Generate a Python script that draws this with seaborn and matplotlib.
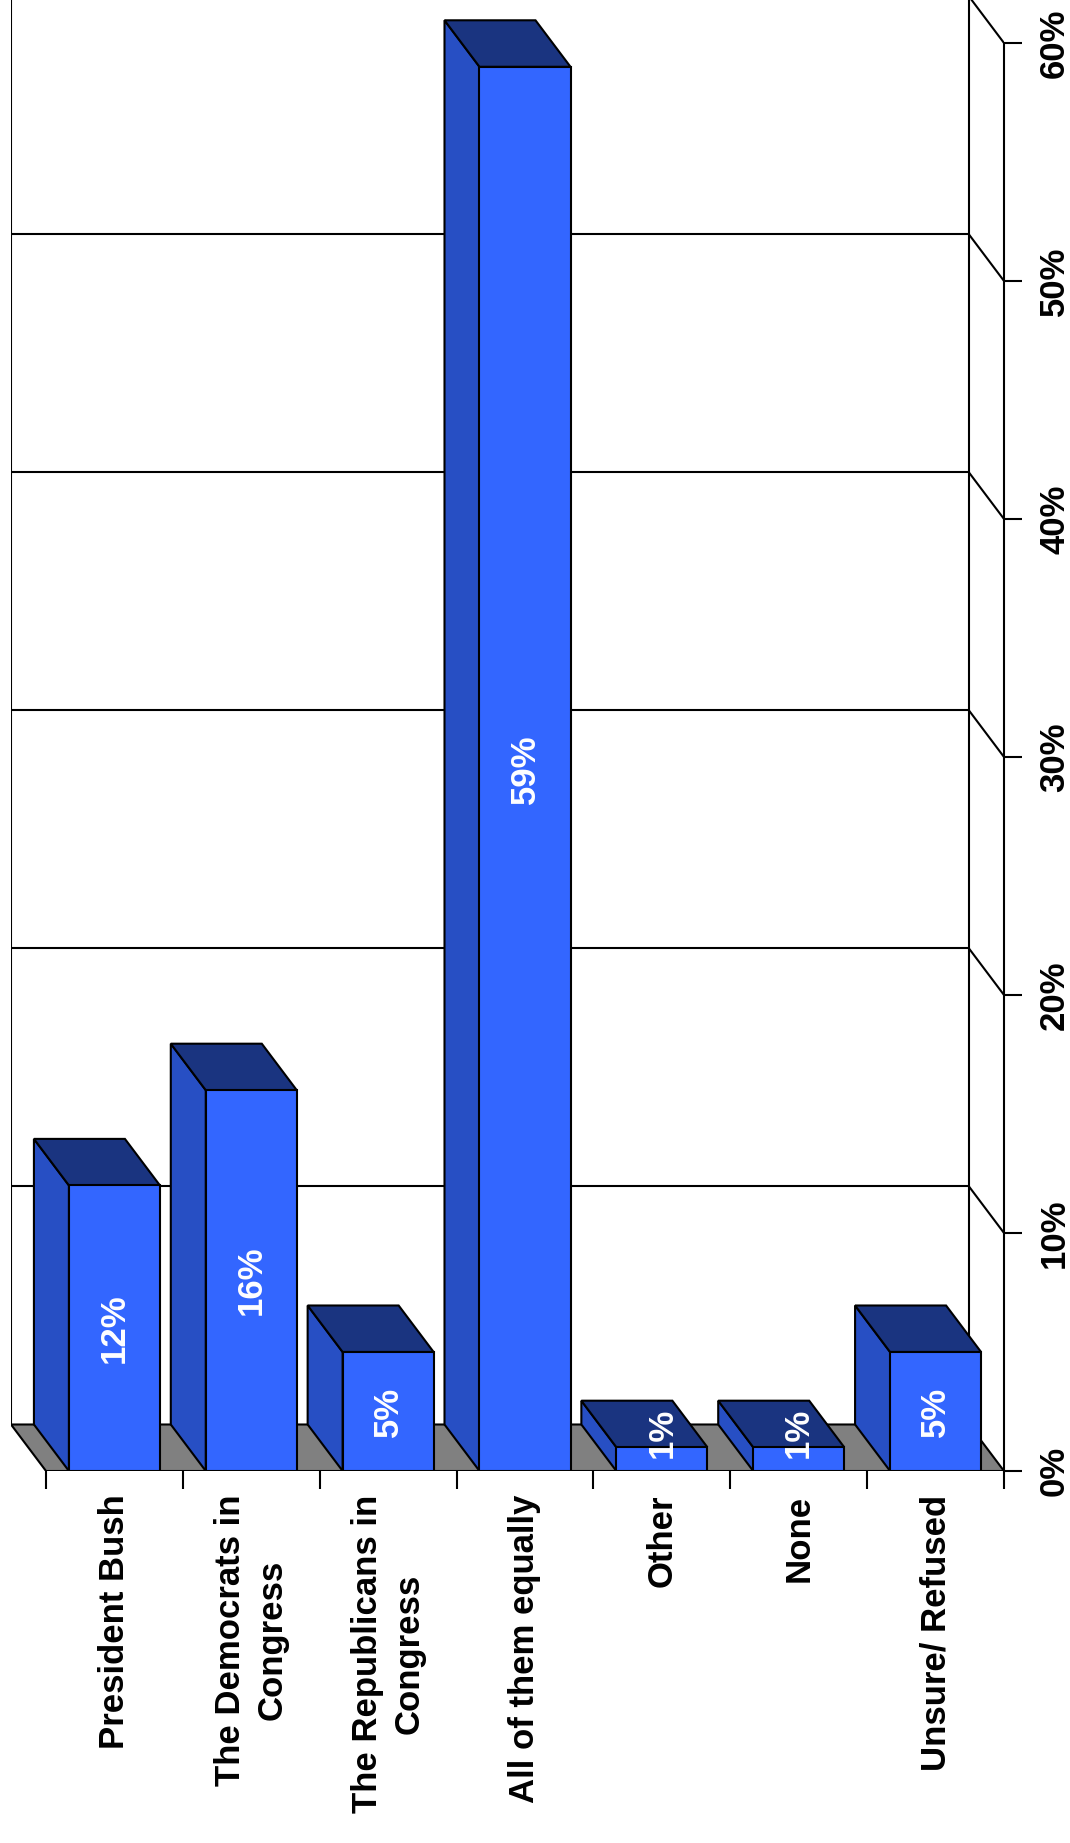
import numpy as np
import matplotlib
matplotlib.use("Agg")
import matplotlib.pyplot as plt
import seaborn as sns
from matplotlib.patches import Polygon
from matplotlib.ticker import FixedLocator

# Data
categories = ["President Bush", "The Democrats in\nCongress", "The Republicans in\nCongress",
              "All of them equally", "Other", "None", "Unsure/ Refused"]
values = [12, 16, 5, 59, 1, 1, 5]
value_labels = ["12%", "16%", "5%", "59%", "1%", "1%", "5%"]
y_ticks = [0, 10, 20, 30, 40, 50, 60]
y_tick_labels = ["0%", "10%", "20%", "30%", "40%", "50%", "60%"]

FRONT = "#3366FF"
SIDE = "#274FC4"
TOP = "#1A3480"
FLOOR = "#808080"
DX = 0.2557   # depth offset in category units
DY = 1.954    # depth offset in percent units
LW = 1.5

sns.set_style("white")
plt.rcParams["font.family"] = ["Liberation Sans", "DejaVu Sans"]
plt.rcParams["font.weight"] = "bold"

fig = plt.figure(figsize=(10.7, 18.43), dpi=100)
ax = fig.add_axes([11 / 1070, 1 - 1471 / 1843, (1004 - 11) / 1070, 1471 / 1843])

sns.barplot(x=categories, y=values, color=FRONT, saturation=1, width=0.665,
            edgecolor="black", linewidth=LW, errorbar=None, zorder=4, ax=ax)
bars = list(ax.patches)

ytop = 1471 / 23.8
ax.set_xlim(-0.5 - DX, 6.5)
ax.set_ylim(0, ytop)

# back wall and grid
ax.plot([-0.5 - DX] * 2, [DY, ytop], color="black", lw=LW, zorder=0)
ax.plot([6.5 - DX] * 2, [DY, ytop], color="black", lw=LW, zorder=0)
for v in y_ticks[1:]:
    ax.plot([-0.5 - DX, 6.5 - DX], [v + DY] * 2, color="black", lw=LW, zorder=0)
    ax.plot([6.5 - DX, 6.5], [v + DY, v], color="black", lw=LW, zorder=0)

# floor
ax.add_patch(Polygon([(-0.5, 0), (6.5, 0), (6.5 - DX, DY), (-0.5 - DX, DY)],
                     closed=True, fc=FLOOR, ec="black", lw=LW, zorder=1))

# 3D sides and tops of the bars
for p, lab in zip(bars, value_labels):
    x0, w, h = p.get_x(), p.get_width(), p.get_height()
    side = [(x0, 0), (x0, h), (x0 - DX, h + DY), (x0 - DX, DY)]
    top = [(x0, h), (x0 + w, h), (x0 + w - DX, h + DY), (x0 - DX, h + DY)]
    ax.add_patch(Polygon(side, closed=True, fc=SIDE, ec="black", lw=LW, zorder=3))
    ax.add_patch(Polygon(top, closed=True, fc=TOP, ec="black", lw=LW, zorder=3))
    # small bars: keep the label above the floor line so it stays visible
    ax.text(x0 + w / 2, max(h / 2, 1.6), lab, rotation=90, ha="center", va="center",
            color="white", fontsize=25, fontweight="bold", zorder=6)

# axes
for s in ["top", "left", "bottom"]:
    ax.spines[s].set_visible(False)
ax.spines["right"].set_visible(True)
ax.spines["right"].set_bounds(0, 60)
ax.spines["right"].set_linewidth(LW)
ax.spines["right"].set_color("black")

ax.yaxis.tick_right()
ax.set_yticks(y_ticks)
ax.set_yticklabels(y_tick_labels, rotation=90, va="center", fontsize=25, fontweight="bold")
ax.tick_params(axis="y", right=True, left=False, length=13, width=LW, pad=11.5,
               direction="out", color="black", labelcolor="black")

ax.set_xticks(range(len(categories)))
ax.set_xticklabels(categories, rotation=90, ha="center", va="top", multialignment="center",
                   linespacing=1.35, fontsize=25, fontweight="bold")
ax.xaxis.set_minor_locator(FixedLocator(np.arange(-0.5, 7, 1)))
ax.tick_params(axis="x", which="major", bottom=True, length=0, pad=17, labelcolor="black")
ax.tick_params(axis="x", which="minor", bottom=True, length=13, width=LW,
               direction="out", color="black")
ax.set_xlabel("")
ax.set_ylabel("")

fig.savefig("out.png", dpi=100)
